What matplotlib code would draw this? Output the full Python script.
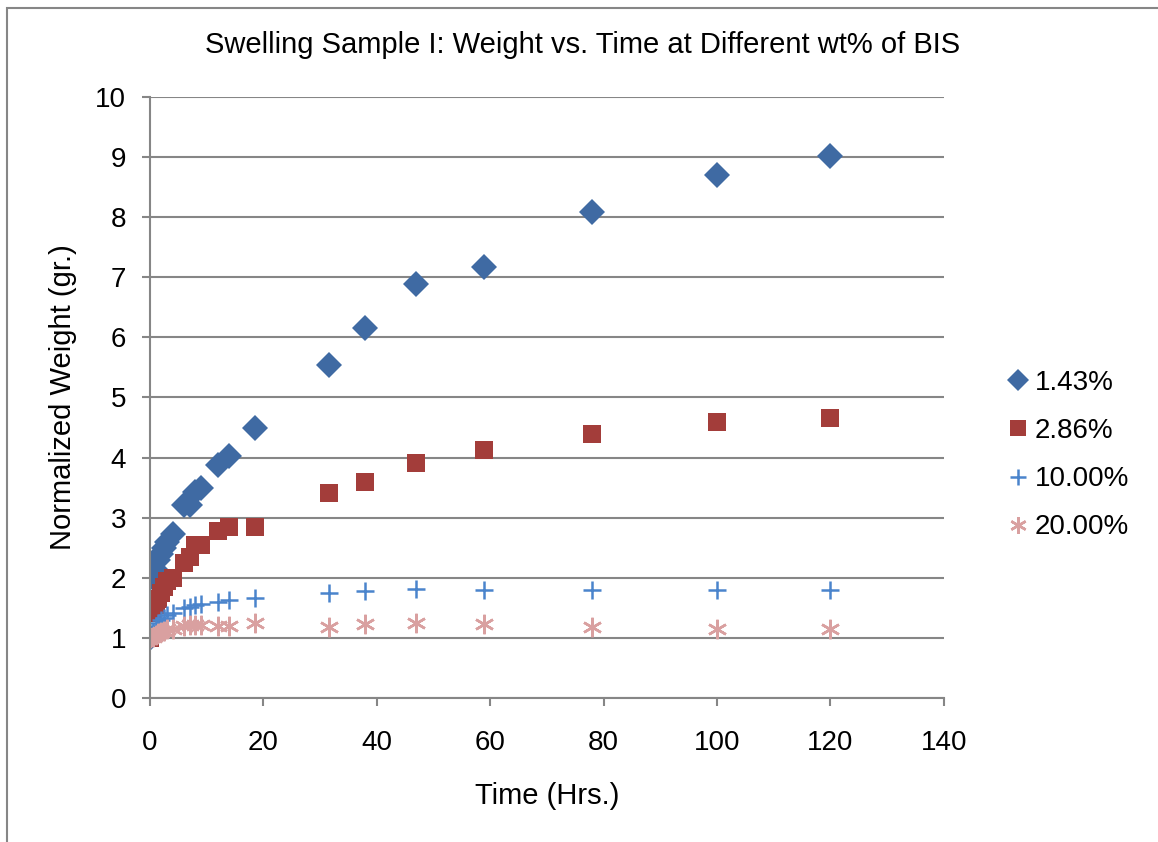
import matplotlib
matplotlib.use('Agg')
import matplotlib.pyplot as plt
from matplotlib.patches import Rectangle

plt.rcParams['font.family'] = ['Liberation Sans', 'DejaVu Sans']

# time points (hrs)
time_hrs = [0, 0.5, 1, 1.5, 2, 2.5, 3, 4, 6, 7, 8, 9, 12, 14, 18.5,
            31.5, 38, 47, 59, 78, 100, 120]

# normalized weight per BIS wt%
w_143 = [1.0, 2.0, 2.13, 2.3, 2.4, 2.5, 2.6, 2.73, 3.21, 3.21, 3.42, 3.5,
         3.88, 4.02, 4.49, 5.54, 6.15, 6.89, 7.17, 8.09, 8.7, 9.02]
w_286 = [1.0, 1.42, 1.55, 1.65, 1.75, 1.85, 1.94, 2.0, 2.24, 2.35, 2.55, 2.55,
         2.77, 2.85, 2.85, 3.41, 3.6, 3.91, 4.13, 4.39, 4.59, 4.66]
w_10 = [1.0, 1.1, 1.2, 1.25, 1.3, 1.33, 1.38, 1.41, 1.5, 1.52, 1.55, 1.56,
        1.6, 1.63, 1.66, 1.75, 1.78, 1.81, 1.8, 1.8, 1.79, 1.79]
w_20 = [1.0, 1.02, 1.05, 1.08, 1.1, 1.12, 1.14, 1.15, 1.2, 1.22, 1.22, 1.21,
        1.2, 1.2, 1.25, 1.18, 1.23, 1.24, 1.23, 1.18, 1.15, 1.15]

labels = ['1.43%', '2.86%', '10.00%', '20.00%']

fig = plt.figure(figsize=(11.58, 8.42), dpi=100)
ax = fig.add_axes([0.1295, 0.171, 0.6855, 0.714])

# chart border (left/top visible, rest runs off the image)
fig.patches.append(Rectangle((0.006, -0.05), 1.2, 1.04, transform=fig.transFigure,
                             fill=False, edgecolor='#868686', linewidth=1.5))

ax.plot(time_hrs, w_143, linestyle='none', marker='D', ms=13, color='#3F6AA3',
        markeredgewidth=0, label=labels[0])
ax.plot(time_hrs, w_286, linestyle='none', marker='s', ms=13.5, color='#A33D3A',
        markeredgewidth=0, label=labels[1])
ax.plot(time_hrs, w_10, linestyle='none', marker='+', ms=13, color='#4A84CC',
        markeredgewidth=1.8, label=labels[2])
ax.plot(time_hrs, w_20, linestyle='none', marker=(6, 2, 0), ms=14, color='#D9A0A0',
        markeredgewidth=1.8, label=labels[3])

ax.set_xlim(0, 140)
ax.set_ylim(0, 10)
ax.set_xticks(range(0, 141, 20))
ax.set_yticks(range(0, 11))
ax.grid(axis='y', color='#868686', linewidth=1.5)
ax.set_axisbelow(True)
for s in ['top', 'right']:
    ax.spines[s].set_visible(False)
for s in ['left', 'bottom']:
    ax.spines[s].set_color('#868686')
    ax.spines[s].set_linewidth(1.5)
ax.tick_params(axis='both', colors='#868686', width=1.5, length=6, labelsize=20,
               labelcolor='black')
ax.tick_params(axis='x', pad=17)
ax.tick_params(axis='y', pad=11)

fig.text(0.503, 0.947, 'Swelling Sample I: Weight vs. Time at Different wt% of BIS',
         fontsize=21, ha='center', va='center')
ax.set_xlabel('Time (Hrs.)', fontsize=21, labelpad=19)
ax.set_ylabel('Normalized Weight (gr.)', fontsize=21, labelpad=13)

ax.legend(loc='center left', bbox_to_anchor=(1.045, 0.404), frameon=False, fontsize=20,
          handletextpad=0.1, handlelength=1.0, labelspacing=0.8, markerscale=0.85)

fig.savefig('out.png', dpi=100)
